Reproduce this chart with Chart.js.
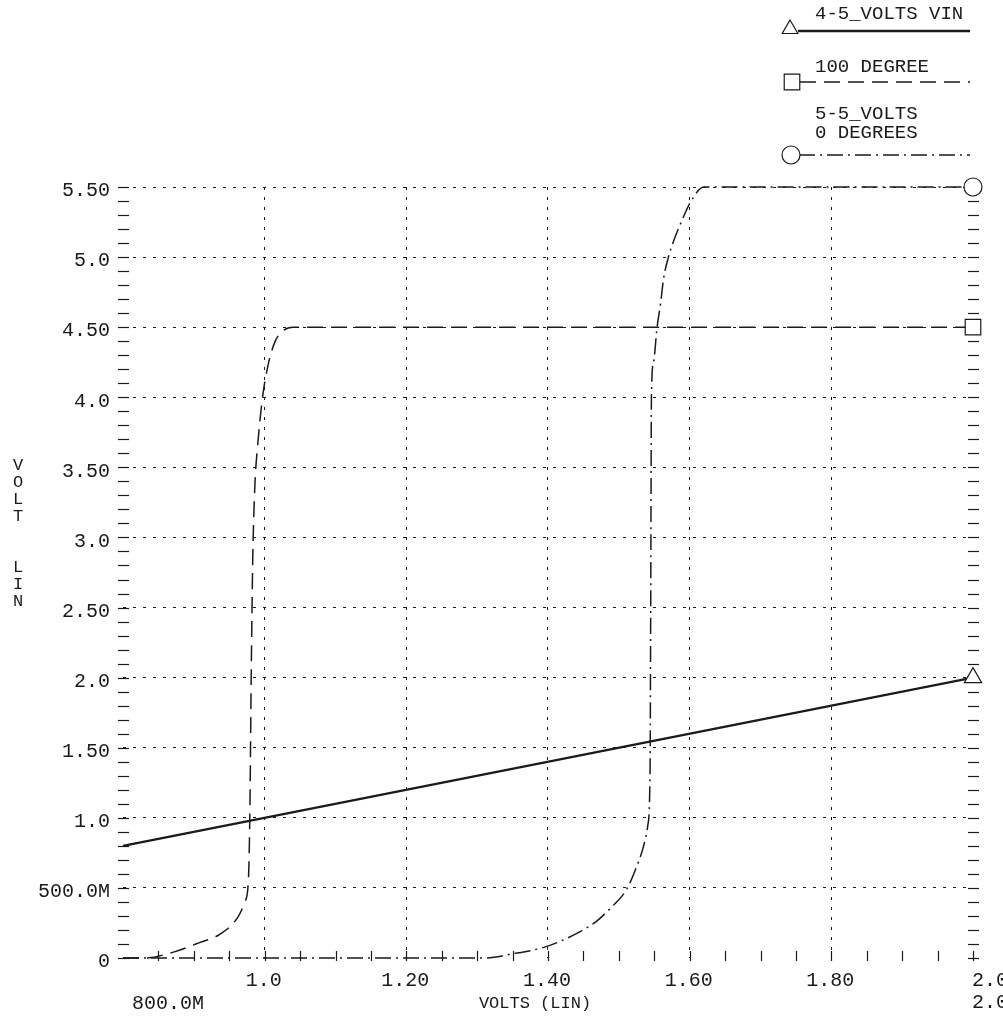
<!DOCTYPE html>
<html>
<head>
<meta charset="utf-8">
<script src="https://cdn.jsdelivr.net/npm/chart.js@4.4.1/dist/chart.umd.min.js"></script>
<style>
  html, body { margin: 0; padding: 0; background: #fff; }
  canvas { display: block; }
</style>
</head>
<body>
<canvas id="sweepChart" width="1003" height="1018"></canvas>
<script>
// series values (x = VIN volts, y = output volts)
var vinX = [0.8, 2.0];
var vinY = [0.8, 2.0];

var hotX = [0.8, 0.83, 0.87, 0.908, 0.937, 0.962, 0.972, 0.977, 0.979, 0.981, 0.983, 0.986, 0.99, 0.997, 1.004, 1.014, 1.025, 1.04, 2.0];
var hotY = [0.0, 0.0, 0.04, 0.11, 0.17, 0.29, 0.40, 0.55, 1.0, 2.0, 2.8, 3.35, 3.65, 4.0, 4.21, 4.39, 4.47, 4.5, 4.5];

var coldX = [0.8, 1.31, 1.35, 1.39, 1.413, 1.446, 1.468, 1.489, 1.511, 1.525, 1.535, 1.541, 1.544, 1.545, 1.546, 1.549, 1.554, 1.559, 1.563, 1.570, 1.577, 1.589, 1.601, 1.62, 2.0];
var coldY = [0.0, 0.0, 0.03, 0.07, 0.11, 0.19, 0.26, 0.36, 0.49, 0.65, 0.80, 0.95, 1.3, 2.5, 4.0, 4.25, 4.5, 4.67, 4.84, 5.0, 5.11, 5.26, 5.39, 5.5, 5.5];

var xTickValues = [1.0, 1.2, 1.4, 1.6, 1.8, 2.0];
var xTickLabels = ['1.0', '1.20', '1.40', '1.60', '1.80', '2.0'];
var yTickValues = [0, 0.5, 1.0, 1.5, 2.0, 2.5, 3.0, 3.5, 4.0, 4.5, 5.0, 5.5];
var yTickLabels = ['0', '500.0M', '1.0', '1.50', '2.0', '2.50', '3.0', '3.50', '4.0', '4.50', '5.0', '5.50'];

var seriesNames = [['4-5_VOLTS VIN'], ['100 DEGREE'], ['5-5_VOLTS', '0 DEGREES']];

var MONO = '"Liberation Mono", "DejaVu Sans Mono", monospace';
var INK = '#1a1a1a';

function pts(xs, ys) {
    return xs.map(function (x, i) { return { x: x, y: ys[i] }; });
}
function lastOnly(n, r) {
    return function (c) { return c.dataIndex === n - 1 ? r : 0; };
}

var styles = [
    { dash: [], width: 2.3, point: 'triangle', r: 10 },
    { dash: [16, 8], width: 1.5, point: 'rect', r: 11 },
    { dash: [16, 5, 2, 5], width: 1.5, point: 'circle', r: 9 }
];

function line(ctx, x1, y1, x2, y2) {
    ctx.beginPath(); ctx.moveTo(x1, y1); ctx.lineTo(x2, y2); ctx.stroke();
}

function marker(ctx, kind, x, y, r) {
    ctx.save();
    ctx.setLineDash([]);
    ctx.lineWidth = 1.2;
    ctx.fillStyle = '#fff';
    ctx.strokeStyle = INK;
    ctx.beginPath();
    if (kind === 'triangle') {
        ctx.moveTo(x, y - r);
        ctx.lineTo(x + r * 0.866, y + r * 0.5);
        ctx.lineTo(x - r * 0.866, y + r * 0.5);
        ctx.closePath();
    } else if (kind === 'rect') {
        var s = r * Math.SQRT1_2;
        ctx.rect(x - s, y - s, 2 * s, 2 * s);
    } else {
        ctx.arc(x, y, r, 0, Math.PI * 2);
    }
    ctx.fill();
    ctx.stroke();
    ctx.restore();
}

// minor ticks along the frame
var frameTicks = {
    id: 'frameTicks',
    beforeDatasetsDraw: function (chart) {
        var ctx = chart.ctx, xs = chart.scales.x, ys = chart.scales.y, a = chart.chartArea;
        ctx.save();
        ctx.strokeStyle = INK;
        ctx.lineWidth = 1.2;
        for (var i = 0; i <= 55; i++) {
            var y = Math.round(ys.getPixelForValue(i / 10)) + 0.5;
            line(ctx, a.left - 5, y, a.left + 6, y);
            line(ctx, a.right - 5, y, a.right + 6, y);
        }
        for (var j = 17; j <= 40; j++) {
            var x = Math.round(xs.getPixelForValue(j * 0.05)) + 0.5;
            line(ctx, x, a.bottom - 7, x, a.bottom + 3);
        }
        ctx.restore();
    }
};

// text, legend, axis titles
var decor = {
    id: 'decor',
    afterDraw: function (chart) {
        var ctx = chart.ctx, xs = chart.scales.x, a = chart.chartArea;
        ctx.save();
        ctx.fillStyle = INK;
        ctx.font = '20px ' + MONO;
        ctx.textBaseline = 'middle';

        // x tick labels, first row
        xTickValues.forEach(function (v, i) {
            var px = xs.getPixelForValue(v);
            if (i === xTickValues.length - 1) {
                ctx.textAlign = 'left';
                ctx.fillText(xTickLabels[i], px - 1, 981);
                ctx.fillText(xTickLabels[i], px - 1, 1003);
            } else {
                ctx.textAlign = 'center';
                ctx.fillText(xTickLabels[i], px - 1, 981);
            }
        });
        ctx.textAlign = 'left';
        ctx.fillText('800.0M', xs.getPixelForValue(0.8) + 9, 1004);

        ctx.font = '17px ' + MONO;
        ctx.textAlign = 'center';
        ctx.fillText('VOLTS (LIN)', a.left + 412, 1003);

        // stacked y title
        var title = ['V', 'O', 'L', 'T', '', '', 'L', 'I', 'N'];
        title.forEach(function (ch, i) { ctx.fillText(ch, 18, 465 + i * 17); });

        // legend block, top right
        var rows = [
            { lineY: 31, mx: 790, my: 29, textY: [14] },
            { lineY: 82, mx: 792, my: 82, textY: [67] },
            { lineY: 155, mx: 791, my: 155, textY: [114, 133] }
        ];
        ctx.font = '19px ' + MONO;
        ctx.textAlign = 'left';
        rows.forEach(function (row, k) {
            var st = styles[k];
            ctx.save();
            ctx.strokeStyle = INK;
            ctx.lineWidth = st.width;
            ctx.setLineDash(st.dash);
            line(ctx, row.mx + 8, row.lineY, 970, row.lineY);
            ctx.restore();
            marker(ctx, st.point, row.mx, row.my, st.point === 'rect' ? 11 : 9);
            seriesNames[k].forEach(function (t, m) { ctx.fillText(t, 815, row.textY[m]); });
        });
        ctx.restore();
    }
};

var xsData = [vinX, hotX, coldX];
var ysData = [vinY, hotY, coldY];

var datasets = styles.map(function (st, k) {
    var n = xsData[k].length;
    return {
        label: seriesNames[k].join(' '),
        data: pts(xsData[k], ysData[k]),
        borderColor: INK,
        borderWidth: st.width,
        borderDash: st.dash,
        fill: false,
        cubicInterpolationMode: k === 0 ? 'default' : 'monotone',
        tension: 0,
        clip: 14,
        pointStyle: st.point,
        pointRadius: lastOnly(n, st.r),
        pointHoverRadius: 0,
        pointBackgroundColor: '#fff',
        pointBorderColor: INK,
        pointBorderWidth: 1.2
    };
});

var ctx = document.getElementById('sweepChart').getContext('2d');
var chart_sweep = new Chart(ctx, {
    type: 'line',
    data: { datasets: datasets },
    options: {
        responsive: false,
        animation: false,
        events: [],
        layout: { padding: { top: 187, right: 30, left: 0, bottom: 0 } },
        plugins: {
            legend: { display: false },
            tooltip: { enabled: false }
        },
        scales: {
            x: {
                type: 'linear',
                min: 0.8,
                max: 2.0,
                afterBuildTicks: function (scale) {
                    scale.ticks = xTickValues.map(function (v) { return { value: v }; });
                },
                afterFit: function (scale) { scale.height = 60; },
                ticks: { display: false },
                grid: {
                    drawTicks: false,
                    lineWidth: 1,
                    color: function (c) { return c.tick && c.tick.value >= 2.0 ? 'rgba(0,0,0,0)' : INK; }
                },
                border: { display: false, dash: [3, 7] }
            },
            y: {
                type: 'linear',
                min: 0,
                max: 5.5,
                afterBuildTicks: function (scale) {
                    scale.ticks = yTickValues.map(function (v) { return { value: v }; });
                },
                afterFit: function (scale) { scale.width = 123; },
                ticks: {
                    padding: 13,
                    labelOffset: 4,
                    color: INK,
                    font: { family: MONO, size: 20 },
                    callback: function (v, i) { return yTickLabels[i]; }
                },
                grid: {
                    drawTicks: false,
                    lineWidth: 1,
                    color: function (c) { return c.tick && c.tick.value === 0 ? 'rgba(0,0,0,0)' : INK; }
                },
                border: { display: false, dash: [3, 7] }
            }
        }
    },
    plugins: [frameTicks, decor]
});
</script>
</body>
</html>
